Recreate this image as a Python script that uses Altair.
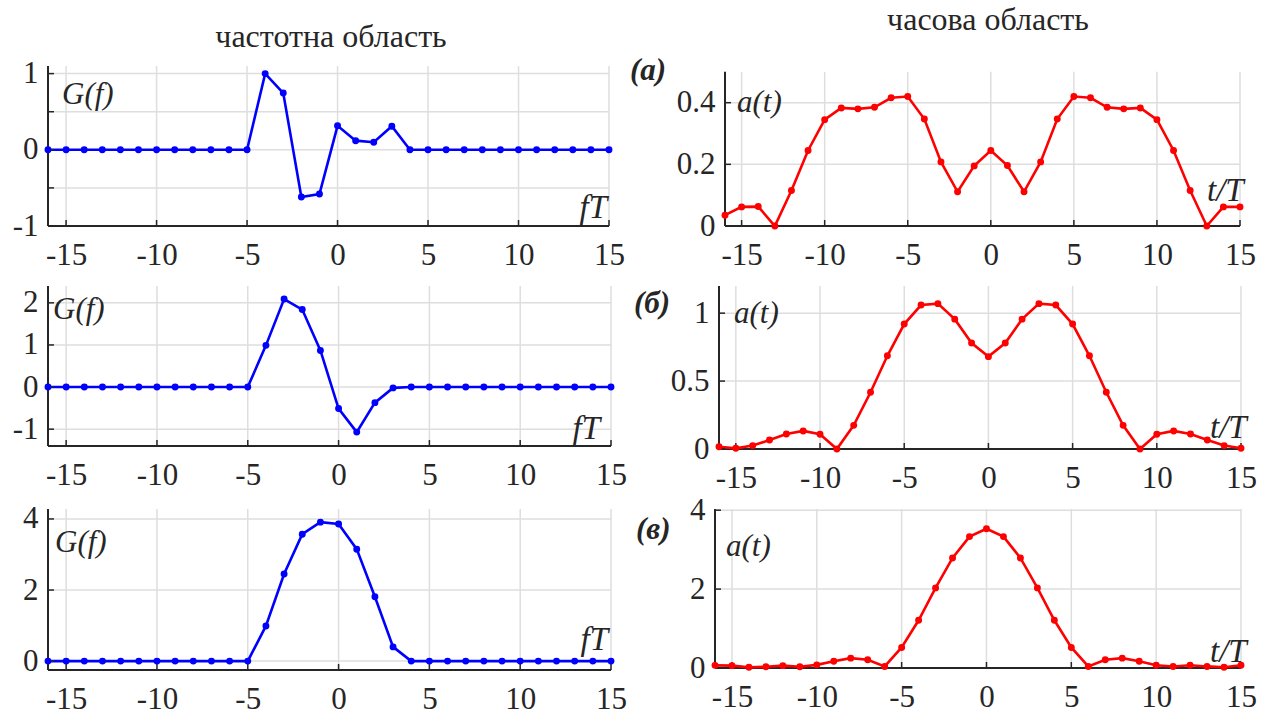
import altair as alt
import pandas as pd

# ---------------- data ----------------
n_vals = [-16, -15, -14, -13, -12, -11, -10, -9, -8, -7, -6, -5, -4, -3, -2, -1,
          0, 1, 2, 3, 4, 5, 6, 7, 8, 9, 10, 11, 12, 13, 14, 15]

g_a = [0, 0, 0, 0, 0, 0, 0, 0, 0, 0, 0, 0,
       1.0, 0.745, -0.62, -0.58, 0.315, 0.12, 0.10, 0.31, 0,
       0, 0, 0, 0, 0, 0, 0, 0, 0, 0, 0]
a_a = [0.035, 0.062, 0.063, 0, 0.115, 0.245, 0.345, 0.383, 0.38, 0.385, 0.416, 0.42,
       0.347, 0.208, 0.111, 0.195, 0.245, 0.196, 0.111, 0.208, 0.347, 0.42, 0.416,
       0.385, 0.38, 0.383, 0.345, 0.245, 0.115, 0, 0.062, 0.062]

g_b = [0, 0, 0, 0, 0, 0, 0, 0, 0, 0, 0, 0,
       0.99, 2.09, 1.84, 0.87, -0.51, -1.07, -0.37, -0.02,
       0, 0, 0, 0, 0, 0, 0, 0, 0, 0, 0, 0]
a_b = [0.017, 0.005, 0.025, 0.066, 0.11, 0.133, 0.108, 0, 0.174, 0.418, 0.686, 0.92,
       1.06, 1.07, 0.956, 0.78, 0.68, 0.78, 0.956, 1.07, 1.06, 0.92, 0.686, 0.418,
       0.174, 0, 0.108, 0.133, 0.11, 0.066, 0.025, 0.005]

g_c = [0, 0, 0, 0, 0, 0, 0, 0, 0, 0, 0, 0,
       0.99, 2.45, 3.57, 3.91, 3.86, 3.15, 1.81, 0.40, 0,
       0, 0, 0, 0, 0, 0, 0, 0, 0, 0, 0]
a_c = [0.067, 0.06, 0.02, 0.03, 0.06, 0.03, 0.08, 0.17, 0.25, 0.21, 0.04, 0.52,
       1.21, 2.03, 2.79, 3.33, 3.53, 3.33, 2.79, 2.03, 1.21, 0.52, 0.04, 0.21,
       0.25, 0.17, 0.07, 0.04, 0.07, 0.04, 0.02, 0.07]

x_ticks = [-15, -10, -5, 0, 5, 10, 15]
yt_ga = [-1, -0.5, 0, 0.5, 1]
yt_gb = [-1, 0, 1, 2]
yt_gc = [0, 2, 4]
yt_aa = [0, 0.2, 0.4]
yt_ab = [0, 0.5, 1]
yt_ac = [0, 2, 4]

title_left = "частотна область"
title_right = "часова область"
lab_g = "G(f)"
lab_fT = "fT"
lab_a = "a(t)"
lab_tT = "t/T"
panel_tags = ["(а)", "(б)", "(в)"]

FONT = "Liberation Serif"
AX = "#262626"
GRID = "#dedede"
BLUE = "#0000ff"
RED = "#ff0000"
X0, X1 = -16, 15
LBL = 31


def text_layer(txt, x, y, align="left", size=31, style="italic", weight="normal"):
    return alt.Chart(pd.DataFrame({"t": [txt]})).mark_text(
        align=align, baseline="middle", font=FONT, fontSize=size,
        fontStyle=style, fontWeight=weight, color=AX
    ).encode(text="t:N", x=alt.value(x), y=alt.value(y))


def panel(ys, color, ydom, yticks, width, height, texts, int_labels=False,
          off=0, gtop=None, anchor=None):
    """off: pixel distance of the y axis (x = -16) from the cell's left edge."""
    if gtop is None:
        gtop = ydom[1]
    ppu = (width - off) / (X1 - X0)
    xs = alt.Scale(domain=[X0 - off / ppu, X1], nice=False, zero=False)
    ysc = alt.Scale(domain=ydom, nice=False, zero=False)
    label_expr = ("abs(datum.value % 1) < 1e-9 ? toString(datum.value) : ''"
                  if int_labels else "toString(datum.value)")
    xaxis = alt.Axis(values=x_ticks, grid=False, domain=False, ticks=False,
                     labelFont=FONT, labelFontSize=LBL, labelColor=AX,
                     labelPadding=14, labelFlush=False, labelOverlap=False,
                     labelExpr="toString(datum.value)", title=None)
    yaxis = alt.Axis(values=yticks, grid=False, domain=False, ticks=False,
                     labelFont=FONT, labelFontSize=LBL, labelColor=AX,
                     labelPadding=10, labelFlush=False, labelOverlap=False,
                     labelExpr=label_expr, title=None, offset=-off)
    df = pd.DataFrame({"n": n_vals, "v": ys})
    base = alt.Chart(df).encode(
        x=alt.X("n:Q", scale=xs, axis=xaxis),
        y=alt.Y("v:Q", scale=ysc, axis=yaxis),
    )
    line = base.mark_line(color=color, strokeWidth=2.6)
    pts = base.mark_circle(color=color, size=48, opacity=1)

    layers = []
    if anchor is not None:
        # invisible marker fixing the top-left corner of the whole figure
        layers.append(alt.Chart(pd.DataFrame({"a": [0]})).mark_rule(
            strokeOpacity=0, strokeWidth=1).encode(
            x=alt.value(anchor[0]), x2=alt.value(anchor[0] + 2),
            y=alt.value(anchor[1]), y2=alt.value(anchor[1] + 2)))
    # grid
    layers.append(alt.Chart(pd.DataFrame({"gx": x_ticks})).mark_rule(
        color=GRID, strokeWidth=1.5).encode(
        x=alt.X("gx:Q", scale=xs, axis=xaxis),
        y=alt.YDatum(ydom[0], scale=ysc, axis=yaxis),
        y2=alt.Y2Datum(gtop)))
    layers.append(alt.Chart(pd.DataFrame({"gy": yticks})).mark_rule(
        color=GRID, strokeWidth=1.5).encode(
        y=alt.Y("gy:Q", scale=ysc, axis=yaxis),
        x=alt.XDatum(X0, scale=xs, axis=xaxis),
        x2=alt.X2Datum(X1)))
    # axis lines
    layers.append(alt.Chart(pd.DataFrame({"a": [0]})).mark_rule(
        color=AX, strokeWidth=2).encode(
        x=alt.XDatum(X0, scale=xs, axis=xaxis),
        y=alt.YDatum(ydom[0], scale=ysc, axis=yaxis),
        y2=alt.Y2Datum(gtop)))
    layers.append(alt.Chart(pd.DataFrame({"a": [0]})).mark_rule(
        color=AX, strokeWidth=2).encode(
        y=alt.YDatum(ydom[0], scale=ysc, axis=yaxis),
        x=alt.XDatum(X0, scale=xs, axis=xaxis),
        x2=alt.X2Datum(X1)))
    layers.append(line)
    # inward tick marks
    layers.append(alt.Chart(pd.DataFrame({"tx": x_ticks})).mark_rule(
        color=AX, strokeWidth=1.5).encode(
        x=alt.X("tx:Q", scale=xs, axis=xaxis),
        y=alt.value(height), y2=alt.value(height - 6)))
    layers.append(alt.Chart(pd.DataFrame({"ty": yticks})).mark_rule(
        color=AX, strokeWidth=1.5).encode(
        y=alt.Y("ty:Q", scale=ysc, axis=yaxis),
        x=alt.value(off), x2=alt.value(off + 6)))
    layers.append(pts)
    for t in texts:
        layers.append(text_layer(**t))
    return alt.layer(*layers).properties(width=width, height=height)


L1 = panel(g_a, BLUE, [-1, 1.1], yt_ga, 561, 160, [
    dict(txt=lab_g, x=14, y=29),
    dict(txt=lab_fT, x=559, y=142, align="right", size=33),
    dict(txt=title_left, x=283, y=-29, align="center", size=32, style="normal"),
], int_labels=True, anchor=(-48, -66))
R1 = panel(a_a, RED, [0, 0.519], yt_aa, 525, 160, [
    dict(txt=lab_a, x=22, y=37),
    dict(txt=lab_tT, x=492, y=125, size=33),
    dict(txt=panel_tags[0], x=-85, y=5, size=31, weight="bold"),
    dict(txt=title_right, x=273, y=-46, align="center", size=32, style="normal"),
], off=10, gtop=0.5)

L2 = panel(g_b, BLUE, [-1.4, 2.4], yt_gb, 563, 160, [
    dict(txt=lab_g, x=5, y=24),
    dict(txt=lab_fT, x=552, y=143, align="right", size=33),
])
R2 = panel(a_b, RED, [0, 1.2], yt_ab, 526, 163, [
    dict(txt=lab_a, x=19, y=28),
    dict(txt=lab_tT, x=495, y=142, size=33),
    dict(txt=panel_tags[1], x=-81, y=18, size=31, weight="bold"),
], off=4)

L3 = panel(g_c, BLUE, [-0.25, 4.28], yt_gc, 563, 161, [
    dict(txt=lab_g, x=7, y=34),
    dict(txt=lab_fT, x=560, y=131, align="right", size=33),
])
R3 = panel(a_c, RED, [0, 4.03], yt_ac, 526, 159, [
    dict(txt=lab_a, x=11, y=38),
    dict(txt=lab_tT, x=495, y=143, size=33),
    dict(txt=panel_tags[2], x=-79, y=21, size=31, weight="bold"),
])

chart = alt.concat(
    L1, R1, L2, R2, L3, R3, columns=2,
    spacing=alt.RowColnumber(row=60, column=104),
    bounds="flush", align="each",
).properties(
    padding=0,
    background="white",
).configure(
    font=FONT,
    style={"guide-label": {"font": FONT, "fontSize": LBL}},
).configure_view(stroke=None).configure_axis(
    labelFont=FONT, labelFontSize=LBL, labelColor=AX
)

chart.save("out.html", embed_options={"renderer": "svg", "actions": False})
